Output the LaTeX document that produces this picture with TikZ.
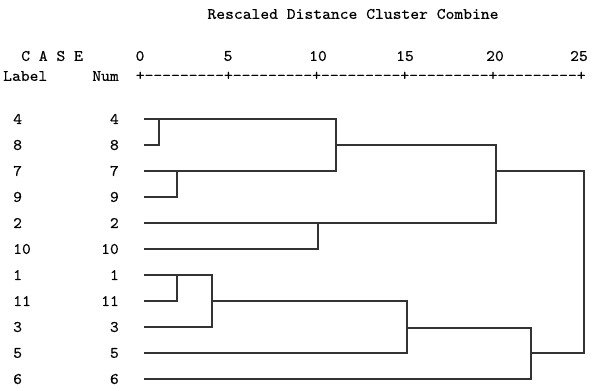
\documentclass[tikz,border=0pt]{standalone}
\usepackage{fontspec}
\newfontfamily\spss[FakeStretch=1.05,FakeBold=0.4]{lmmono10-regular.otf}
\begin{document}
\begin{tikzpicture}[x=1pt,y=-1pt,
  txt/.style={inner sep=0pt,font=\spss\fontsize{16}{18}\selectfont,text=black},
  branch/.style={draw=black!80,line width=1.1pt,line cap=rect}]
\useasboundingbox[fill=white] (0,0) rectangle (595,391);
% header
\node[txt] (title) at (353,14) {Rescaled Distance Cluster Combine};
\node[txt,anchor=west] (case) at (21,56) {C A S E};
\node[txt,anchor=west] (label) at (3,76) {Label};
\node[txt,anchor=east] (num) at (119,76) {Num};
\node[txt] (t0) at (140,56) {0};
\node[txt] (t5) at (228,56) {5};
\node[txt] (t10) at (318,56) {10};
\node[txt] (t15) at (405,56) {15};
\node[txt] (t20) at (495,56) {20};
\node[txt] (t25) at (579,56) {25};
\node[txt,anchor=west] (scale) at (135.6,76) {+---------+---------+---------+---------+---------+};
% row labels
\foreach \lab/\y/\n in {4/119/a,8/145/b,7/171/c,9/197/d,2/223/e,10/249/f,1/275/g,11/301/h,3/327/i,5/353/j,6/379/k}{
  \node[txt,anchor=west] (lab\n) at (13,\y) {\lab};
  \node[txt,anchor=east] (num\n) at (119,\y) {\lab};
  \coordinate (leaf\n) at (145,\y);
}
% merge points
\coordinate (m48) at (159,119);
\coordinate (m79) at (177,171);
\coordinate (mA) at (336,119);
\coordinate (mAo) at (336,145);
\coordinate (m210) at (318,223);
\coordinate (mB) at (496,145);
\coordinate (mBo) at (496,171);
\coordinate (m111) at (177,275);
\coordinate (m1113) at (212,275);
\coordinate (m1113o) at (212,301);
\coordinate (mC) at (407,301);
\coordinate (mCo) at (407,328);
\coordinate (mD) at (531,328);
\coordinate (mDo) at (531,353);
\coordinate (root) at (584,171);
% branches
\draw[branch] (leafa) -- (mA);
\draw[branch] (leafb) -| (m48);
\draw[branch] (leafc) -- (mA |- leafc);
\draw[branch] (leafd) -| (m79);
\draw[branch] (mA) -- (mA |- leafc);
\draw[branch] (mAo) -- (mB);
\draw[branch] (leafe) -- (mB |- leafe);
\draw[branch] (leaff) -| (m210);
\draw[branch] (mB) -- (mB |- leafe);
\draw[branch] (mBo) -- (root);
\draw[branch] (leafg) -- (m1113);
\draw[branch] (leafh) -| (m111);
\draw[branch] (leafi) -| (m1113);
\draw[branch] (m1113o) -- (mC);
\draw[branch] (leafj) -| (mC);
\draw[branch] (mCo) -- (mD);
\draw[branch] (leafk) -| (mD);
\draw[branch] (mDo) -- (root |- mDo) -- (root);
\end{tikzpicture}
\end{document}
